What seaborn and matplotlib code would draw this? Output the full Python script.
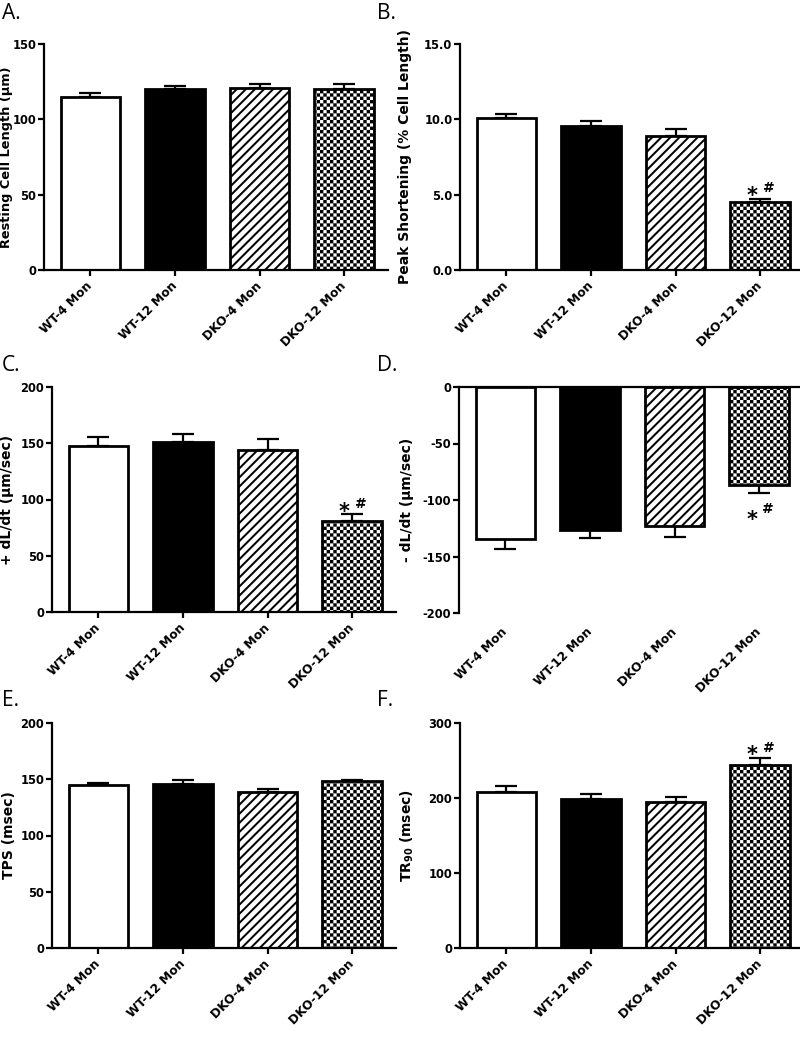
import warnings
warnings.filterwarnings("ignore")
import numpy as np
import pandas as pd
import matplotlib
matplotlib.use("Agg")
import matplotlib.pyplot as plt
import matplotlib.hatch as mhatch
from matplotlib.path import Path
import seaborn as sns

# ---------------- data ----------------
groups = ["WT-4 Mon", "WT-12 Mon", "DKO-4 Mon", "DKO-12 Mon"]

resting_mean = [115.0, 120.1, 120.8, 120.1]
resting_sem = [2.5, 2.0, 2.4, 3.4]
resting_sig = [False, False, False, False]

peak_mean = [10.07, 9.54, 8.92, 4.51]
peak_sem = [0.31, 0.35, 0.42, 0.22]
peak_sig = [False, False, False, True]

plus_dldt_mean = [147.7, 150.7, 144.2, 80.9]
plus_dldt_sem = [7.7, 7.6, 9.4, 6.0]
plus_dldt_sig = [False, False, False, True]

minus_dldt_mean = [-134.8, -126.8, -123.0, -86.7]
minus_dldt_sem = [8.6, 7.1, 9.7, 6.8]
minus_dldt_sig = [False, False, False, True]

tps_mean = [144.9, 145.8, 138.7, 148.4]
tps_sem = [2.1, 3.2, 2.9, 1.2]
tps_sig = [False, False, False, False]

tr90_mean = [208.4, 199.1, 194.7, 244.0]
tr90_sem = [7.6, 5.8, 7.1, 9.3]
tr90_sig = [False, False, False, True]


# ---------------- custom fill patterns ----------------
class CheckerHatch(mhatch.HatchPatternBase):
    def __init__(self, hatch, density):
        self.n = 30 * hatch.count('c')
        self.cells = [(i, j) for i in range(self.n) for j in range(self.n)
                      if (i + j) % 2 == 0] if self.n else []
        self.num_vertices = 5 * len(self.cells)

    def set_vertices_and_codes(self, vertices, codes):
        s = 1.0 / self.n
        sq = np.array([[0, 0], [1, 0], [1, 1], [0, 1], [0, 0]], float) * s
        cd = [Path.MOVETO, Path.LINETO, Path.LINETO, Path.LINETO, Path.CLOSEPOLY]
        k = 0
        for i, j in self.cells:
            vertices[k:k + 5] = sq + [i * s, j * s]
            codes[k:k + 5] = cd
            k += 5


class StripeHatch(mhatch.HatchPatternBase):
    def __init__(self, hatch, density):
        self.k = 11 * hatch.count('d')
        self.num_vertices = 5 * (2 * self.k + 1) if self.k else 0

    def set_vertices_and_codes(self, vertices, codes):
        t = 0.30 / self.k
        cd = [Path.MOVETO, Path.LINETO, Path.LINETO, Path.LINETO, Path.CLOSEPOLY]
        idx = 0
        for m in range(-self.k, self.k + 1):
            c = m / self.k
            poly = np.array([(0, c), (1, 1 + c), (1, 1 + c + t), (0, c + t), (0, c)])
            vertices[idx:idx + 5] = poly
            codes[idx:idx + 5] = cd
            idx += 5


mhatch._hatch_types.append(CheckerHatch)
mhatch._hatch_types.append(StripeHatch)

# ---------------- style ----------------
sns.set_theme(style="ticks")
plt.rcParams['font.family'] = ['DejaVu Sans']
plt.rcParams['font.weight'] = 'bold'
plt.rcParams['axes.labelweight'] = 'bold'
plt.rcParams['axes.unicode_minus'] = False
plt.rcParams['hatch.linewidth'] = 0.05
plt.rcParams['hatch.color'] = 'black'
plt.rcParams['text.color'] = 'black'
plt.rcParams['axes.labelcolor'] = 'black'
plt.rcParams['xtick.color'] = 'black'
plt.rcParams['ytick.color'] = 'black'
plt.rcParams['axes.edgecolor'] = 'black'

W, H = 800, 1042
fig = plt.figure(figsize=(W / 100, H / 100), dpi=100)
fig.patch.set_facecolor('white')

bar_faces = ['white', 'black', 'white', 'white']
bar_hatches = [None, None, 'd', 'c']


def px_axes(left, top, bottom, width=344):
    return fig.add_axes([left / W, 1 - bottom / H, width / W, (bottom - top) / H])


def draw(ax, means, sems, sigs, ylim, yticks, fmt, ylabel, label_x, negative=False,
         label_size=10):
    df = pd.DataFrame({"group": groups, "value": means})
    sns.barplot(data=df, x="group", y="value", order=groups, ax=ax,
                color="white", edgecolor="black", linewidth=2.0, width=0.7,
                errorbar=None, saturation=1)
    for patch, fc, h in zip(ax.patches, bar_faces, bar_hatches):
        patch.set_facecolor(fc)
        patch.set_edgecolor('black')
        patch.set_linewidth(2.0)
        if h:
            patch.set_hatch(h)
        if hasattr(patch, 'set_hatch_linewidth'):
            patch.set_hatch_linewidth(0.05)
    x = np.arange(len(groups))
    zeros = np.zeros(len(groups))
    yerr = [np.array(sems), zeros] if negative else [zeros, np.array(sems)]
    ax.errorbar(x, means, yerr=yerr, fmt='none', ecolor='black',
                elinewidth=1.6, capsize=8, capthick=1.6, zorder=0.9)
    ax.set_xlim(-0.55, 3.52)
    ax.set_ylim(*ylim)
    ax.set_yticks(yticks)
    ax.set_yticklabels([fmt.format(v) for v in yticks])
    ax.set_xlabel('')
    ax.set_ylabel(ylabel, fontsize=label_size, fontweight='bold', color='black')
    ax.yaxis.set_label_coords(label_x, 0.5)
    sns.despine(ax=ax)
    for sp in ['left', 'bottom', 'top']:
        ax.spines[sp].set_linewidth(1.6)
        ax.spines[sp].set_color('black')
    ax.tick_params(axis='both', width=1.6, length=4, color='black', labelcolor='black')
    ax.tick_params(axis='y', labelsize=8.3, pad=1.5)
    ax.tick_params(axis='x', labelsize=8.8, pad=6)
    plt.setp(ax.get_xticklabels(), rotation=45, ha='right', va='center',
             rotation_mode='anchor', fontweight='bold')
    plt.setp(ax.get_yticklabels(), fontweight='bold')
    if negative:
        ax.spines['bottom'].set_visible(False)
        ax.spines['top'].set_visible(True)
        ax.tick_params(axis='x', length=0, pad=12)
    # significance marks
    for xi, m, s, sig in zip(x, means, sems, sigs):
        if not sig:
            continue
        if negative:
            y = m - s
            ax.annotate('*', xy=(xi, y), xytext=(-5, -24), textcoords='offset points',
                        ha='center', va='baseline', fontsize=15, fontweight='bold')
            ax.annotate('#', xy=(xi, y), xytext=(6, -15), textcoords='offset points',
                        ha='center', va='baseline', fontsize=10, fontweight='bold')
        else:
            y = m + s
            ax.annotate('*', xy=(xi, y), xytext=(-6, -2.5), textcoords='offset points',
                        ha='center', va='baseline', fontsize=15, fontweight='bold')
            ax.annotate('#', xy=(xi, y), xytext=(6, 4.5), textcoords='offset points',
                        ha='center', va='baseline', fontsize=10, fontweight='bold')


axA = px_axes(44, 44, 270)
draw(axA, resting_mean, resting_sem, resting_sig, (0, 150), [0, 50, 100, 150], "{:.0f}",
     "Resting Cell Length (µm)", -0.09, label_size=9.3)

axB = px_axes(460, 44, 270)
draw(axB, peak_mean, peak_sem, peak_sig, (0, 15), [0, 5, 10, 15], "{:.1f}",
     "Peak Shortening (% Cell Length)", -0.14)

axC = px_axes(52, 387, 612)
draw(axC, plus_dldt_mean, plus_dldt_sem, plus_dldt_sig, (0, 200), [0, 50, 100, 150, 200],
     "{:.0f}", "+ dL/dt (µm/sec)", -0.11)

axD = px_axes(459, 387, 613)
draw(axD, minus_dldt_mean, minus_dldt_sem, minus_dldt_sig, (-200, 0),
     [-200, -150, -100, -50, 0], "{:.0f}", "- dL/dt (µm/sec)", -0.13, negative=True)

axE = px_axes(52, 723, 948)
draw(axE, tps_mean, tps_sem, tps_sig, (0, 200), [0, 50, 100, 150, 200], "{:.0f}",
     "TPS (msec)", -0.105)

axF = px_axes(460, 723, 948)
draw(axF, tr90_mean, tr90_sem, tr90_sig, (0, 300), [0, 100, 200, 300], "{:.0f}",
     r"TR$_{\mathbf{90}}$ (msec)", -0.128)

letters = [("A.", 2, 3), ("B.", 377, 3), ("C.", 2, 355), ("D.", 377, 355),
           ("E.", 2, 690), ("F.", 377, 690)]
for txt, lx, ly in letters:
    fig.text(lx / W, 1 - ly / H, txt, ha='left', va='top', fontsize=15,
             family='Open Sans', fontweight='normal', color='black')

fig.savefig("out.png", dpi=100, facecolor='white')
